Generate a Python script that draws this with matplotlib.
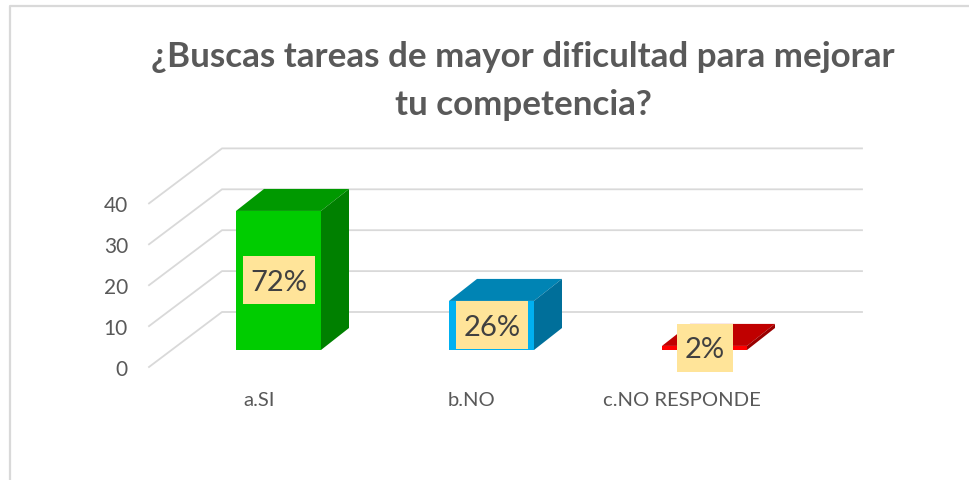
import matplotlib
matplotlib.use('Agg')
import matplotlib.pyplot as plt
from matplotlib.patches import Polygon, Rectangle

plt.rcParams['font.family'] = ['Lato', 'DejaVu Sans']

# values
categories = ['a.SI', 'b.NO', 'c.NO RESPONDE']
counts = [34, 12, 1]
percent_labels = ['72%', '26%', '2%']
y_ticks = [0, 10, 20, 30, 40]
title = '¿Buscas tareas de mayor dificultad para mejorar\ntu competencia?'

front_colors = ['#00CC00', '#00B0F0', '#FF0000']
top_colors = ['#009900', '#0084B4', '#C00000']
side_colors = ['#008000', '#006F9A', '#990000']

# 3d look: x in pixels, y in chart units
unit = 4.09
wall_dx, wall_dy = 73, 55 / unit   # front of floor -> back wall
bar_dx, bar_dy = 28, 22 / unit     # depth of one bar
floor_x, bar_base = 149, 17 / unit # bars stand a bit behind the front edge
bar_w = 85
bar_left = [236, 449, 662]
cat_x = [259, 472, 682]
box_w = [72, 72, 56]
box_h = 48 / unit

fig = plt.figure(figsize=(9.7, 4.8), dpi=100)
ax = fig.add_axes([0, 0, 1, 1])
ax.set_xlim(0, 970)
ax.set_ylim((367 - 480) / unit, 367 / unit)
ax.axis('off')

# chart frame, right side is cut off in the picture
ax.plot([10, 10, 970], [-113 / unit, 361 / unit, 361 / unit], color='#D9D9D9', lw=1.6, clip_on=False)

# grid on side wall and back wall
for t in y_ticks:
    ax.plot([floor_x, floor_x + wall_dx, 862], [t, t + wall_dy, t + wall_dy],
            color='#D9D9D9', lw=1.3)
    ax.text(128, t - 2.5 / unit, str(t), ha='right', va='center', fontsize=15, color='#595959')

for i, v in enumerate(counts):
    x0 = bar_left[i]
    x1 = x0 + bar_w
    y0 = bar_base
    y1 = bar_base + v
    # front, top, side
    ax.add_patch(Polygon([(x0, y0), (x1, y0), (x1, y1), (x0, y1)], fc=front_colors[i], lw=0, zorder=3))
    ax.add_patch(Polygon([(x0, y1), (x1, y1), (x1 + bar_dx, y1 + bar_dy), (x0 + bar_dx, y1 + bar_dy)],
                         fc=top_colors[i], lw=0, zorder=3))
    ax.add_patch(Polygon([(x1, y0), (x1 + bar_dx, y0 + bar_dy), (x1 + bar_dx, y1 + bar_dy), (x1, y1)],
                         fc=side_colors[i], lw=0, zorder=3))
    xc = x0 + bar_w / 2 + 0.5
    yc = (y0 + y1) / 2
    ax.add_patch(Rectangle((xc - box_w[i] / 2, yc - box_h / 2), box_w[i], box_h, fc='#FFE499', lw=0, zorder=4))
    ax.text(xc, yc - 2.5 / unit, percent_labels[i], ha='center', va='center',
            fontsize=21, color='#404040', zorder=5)
    ax.text(cat_x[i], -34 / unit, categories[i], ha='center', va='center', fontsize=14.6, color='#595959')

ax.text(523, (367 - 81) / unit, title, ha='center', va='center', fontsize=25.2,
        fontweight='bold', color='#595959', linespacing=1.65)

fig.savefig('out.png', dpi=100)
